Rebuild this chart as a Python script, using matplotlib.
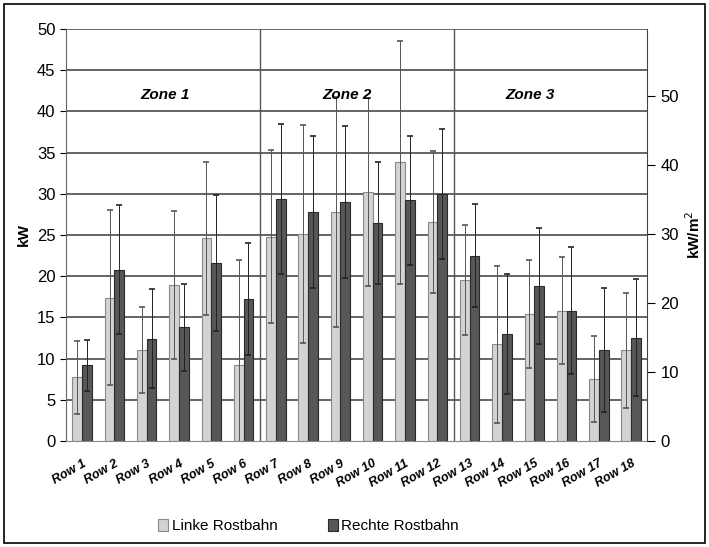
import matplotlib
matplotlib.use("Agg")
import matplotlib.pyplot as plt
import numpy as np

plt.rcParams["font.family"] = ["Liberation Sans", "DejaVu Sans"]

# data (kW)
rows = [f"Row {i}" for i in range(1, 19)]
linke = [7.7, 17.4, 11.0, 18.9, 24.6, 9.2, 24.8, 25.1, 27.8, 30.2,
         33.8, 26.6, 19.5, 11.7, 15.4, 15.8, 7.5, 11.0]
linke_err = [4.4, 10.6, 5.2, 9.0, 9.3, 12.8, 10.5, 13.2, 14.0, 11.4,
             14.7, 8.6, 6.7, 9.5, 6.6, 6.5, 5.2, 7.0]
rechte = [9.2, 20.8, 12.4, 13.8, 21.6, 17.2, 29.4, 27.8, 29.0, 26.4,
          29.2, 30.0, 22.5, 13.0, 18.8, 15.8, 11.0, 12.5]
rechte_err = [3.1, 7.8, 6.0, 5.3, 8.3, 6.8, 9.1, 9.2, 9.2, 7.4,
              7.8, 7.9, 6.3, 7.3, 7.0, 7.7, 7.5, 7.1]
zones = ["Zone 1", "Zone 2", "Zone 3"]
area = 50 / 59.7  # m2, kW -> kW/m2 scaling of the right axis

x = np.arange(len(rows))
w = 0.3

fig = plt.figure(figsize=(7.09, 5.47), dpi=100)
ax = fig.add_axes([0.093, 0.194, 0.82, 0.753])

ax.set_axisbelow(True)
for yv in np.arange(5, 51, 5):
    ax.axhline(yv, color="#3a3a3a", lw=1.1, zorder=0)
for xv in [5.5, 11.5]:
    ax.axvline(xv, color="#555555", lw=1.0, zorder=0)

ax.bar(x - w / 2, linke, w, color="#d3d3d3", edgecolor="#8a8a8a",
       lw=0.8, label="Linke Rostbahn", zorder=2)
ax.bar(x + w / 2, rechte, w, color="#575757", edgecolor="#2a2a2a",
       lw=0.8, label="Rechte Rostbahn", zorder=2)
ax.errorbar(x - w / 2, linke, yerr=linke_err, fmt="none", ecolor="#555555",
            elinewidth=0.7, capsize=2.5, capthick=1.2, zorder=3)
ax.errorbar(x + w / 2, rechte, yerr=rechte_err, fmt="none", ecolor="#222222",
            elinewidth=0.7, capsize=2.5, capthick=1.2, zorder=3)

for xp, name in zip([2.56, 8.2, 13.87], zones):
    ax.text(xp, 42, name, ha="center", va="center", fontsize=11,
            fontweight="bold", style="italic")

ax.set_xlim(-0.5, 17.5)
ax.set_ylim(0, 50)
ax.set_yticks(np.arange(0, 51, 5))
ax.tick_params(axis="y", labelsize=12, length=4, width=0.8)
ax.set_xticks(x)
ax.set_xticklabels(rows, rotation=30, ha="right", rotation_mode="anchor",
                   fontsize=9, fontweight="bold", style="italic")
ax.tick_params(axis="x", length=0, pad=12)
ax.set_ylabel("kW", fontsize=11, fontweight="bold", labelpad=4)
for s in ["top", "right"]:
    ax.spines[s].set_visible(False)
ax.spines["left"].set_color("#666666")
ax.spines["bottom"].set_color("#888888")

ax2 = ax.twinx()
ax2.set_ylim(0, 50 / area)
ax2.set_yticks(np.arange(0, 51, 10))
ax2.tick_params(axis="y", labelsize=12, length=6, width=0.8)
ax2.set_ylabel("kW/m$^2$", fontsize=11, fontweight="bold", labelpad=4)
for s in ["top", "left", "bottom"]:
    ax2.spines[s].set_visible(False)
ax2.spines["right"].set_color("#444444")

fig.legend(loc="lower center", bbox_to_anchor=(0.435, 0.0), ncol=2,
           frameon=False, fontsize=11, handlelength=0.7, handleheight=0.9,
           columnspacing=3.3, handletextpad=0.2)

fig.patches.append(plt.Rectangle((0.006, 0.008), 0.988, 0.984,
                                 transform=fig.transFigure, fill=False,
                                 edgecolor="black", lw=1.2))

fig.savefig("out.png", dpi=100)
